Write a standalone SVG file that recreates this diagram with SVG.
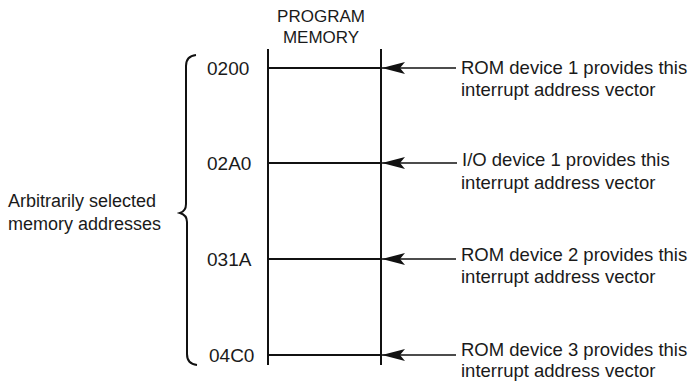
<svg xmlns="http://www.w3.org/2000/svg" width="690" height="382" viewBox="0 0 690 382">
<style>
text{font-family:"Liberation Sans",Arial,sans-serif;font-size:18.5px;fill:#1a1a1a}
.ad{font-size:19px}
.hd{font-size:17px}
.lf{font-size:18px}
.ln{stroke:#111;stroke-width:2;fill:none}
.ar{stroke:#111;stroke-width:1.6;fill:none}
</style>
<defs>
<marker id="ah" viewBox="0 0 23 12" refX="23" refY="6" markerWidth="23" markerHeight="12" markerUnits="userSpaceOnUse" orient="auto">
<path d="M0,0 L23,6 L0,12 L5,6 Z" fill="#111"/>
</marker>
</defs>
<rect width="690" height="382" fill="#fff"/>
<g id="memory">
<text class="hd" x="321" y="22" text-anchor="middle">PROGRAM</text>
<text class="hd" x="321" y="43" text-anchor="middle">MEMORY</text>
<line class="ln" x1="268" y1="49" x2="268" y2="365"/>
<line class="ln" x1="381" y1="49" x2="381" y2="365"/>
</g>
<g id="brace">
<path class="ln" d="M196,55 Q186,56 186,66 L186,204 Q186,211 180,213 Q187,215 187,222 L187,354 Q187,364 197,365"/>
<text class="lf" x="8" y="207">Arbitrarily selected</text>
<text class="lf" x="8" y="230">memory addresses</text>
</g>
<g id="addr">
<text class="ad" x="207" y="75">0200</text>
<text class="ad" x="207" y="170">02A0</text>
<text class="ad" x="207" y="266">031A</text>
<text class="ad" x="209" y="362">04C0</text>
</g>
<g id="rows">
<line class="ln" x1="268" y1="68" x2="381" y2="68"/>
<line class="ln" x1="268" y1="163" x2="381" y2="163"/>
<line class="ln" x1="268" y1="259" x2="381" y2="259"/>
<line class="ln" x1="268" y1="355" x2="381" y2="355"/>
</g>
<g id="connectors">
<line class="ar" x1="456" y1="68" x2="382" y2="68" marker-end="url(#ah)"/>
<line class="ar" x1="457" y1="163" x2="382" y2="163" marker-end="url(#ah)"/>
<line class="ar" x1="456" y1="259" x2="382" y2="259" marker-end="url(#ah)"/>
<line class="ar" x1="456" y1="355" x2="382" y2="355" marker-end="url(#ah)"/>
</g>
<g id="label1">
<text x="461" y="74">ROM device 1 provides this</text>
<text x="461" y="96">interrupt address vector</text>
</g>
<g id="label2">
<text x="462" y="166">I/O device 1 provides this</text>
<text x="461" y="189">interrupt address vector</text>
</g>
<g id="label3">
<text x="461" y="261">ROM device 2 provides this</text>
<text x="461" y="283">interrupt address vector</text>
</g>
<g id="label4">
<text x="461" y="356">ROM device 3 provides this</text>
<text x="461" y="377">interrupt address vector</text>
</g>
</svg>
